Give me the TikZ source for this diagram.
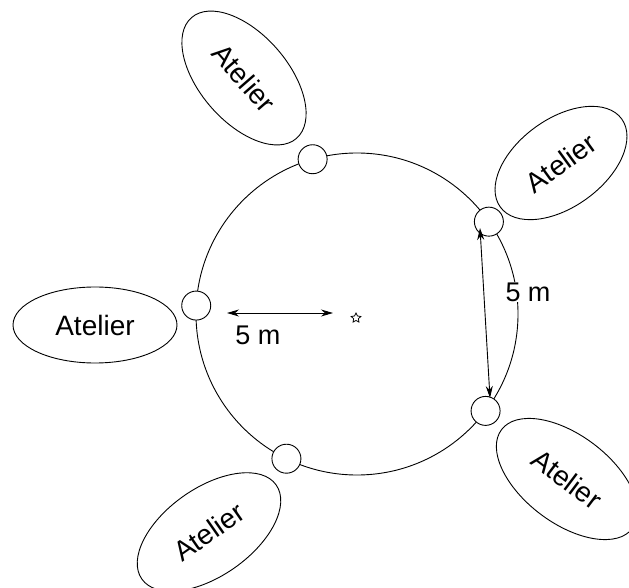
\documentclass[tikz,border=0pt]{standalone}
\usepackage{fontspec}
\setmainfont{Liberation Sans}
\usetikzlibrary{shapes,positioning,arrows.meta,calc}

\begin{document}
\begin{tikzpicture}[x=1pt, y=1pt,
      atelier/.style={draw, ellipse, line width=0.9pt, inner sep=0pt,
        font=\fontsize{28}{30}\selectfont},
      stand/.style={draw, circle, fill=white, line width=0.9pt,
        minimum size=29pt, inner sep=0pt},
      measure/.style={{Stealth[length=12pt,width=7pt]}-{Stealth[length=12pt,width=7pt]}, line width=0.9pt},
      dist/.style={fill=white, inner sep=1pt, font=\fontsize{27}{29}\selectfont}]
      \useasboundingbox (0,0) rectangle (629,587);

      \coordinate (centre) at (357,273);
      \draw[line width=0.9pt] (centre) circle[radius=161pt];

      \foreach \name/\ang in {top/106, rt/35, left/177, br/323, bl/244} {
        \node[stand] (\name) at ($(centre)+(\ang:161pt)$) {};
      };

      \node[atelier, minimum width=160pt, minimum height=88pt, rotate=-49] (at-tl) at (244,509) {Atelier};
      \node[atelier, minimum width=150pt, minimum height=88pt, rotate=36] (at-rt) at (561,424) {Atelier};
      \node[atelier, minimum width=164pt, minimum height=76pt] (at-l) at (95,262) {Atelier};
      \node[atelier, minimum width=164pt, minimum height=88pt, rotate=-37] (at-br) at (567,108) {Atelier};
      \node[atelier, minimum width=164pt, minimum height=88pt, rotate=35] (at-bl) at (209,55) {Atelier};

      \node[star, star points=5, star point ratio=2, draw, line width=0.8pt,
        minimum size=10pt, inner sep=0pt] (star) at (356,269) {};

      % distances
      \coordinate (h-a) at (227,274);
      \coordinate (h-b) at (333,274);
      \draw[measure] (h-a) -- (h-b);
      \node[dist] (d-h) at (258,252) {5 m};

      \coordinate (v-a) at (480,359);
      \coordinate (v-b) at (490,189);
      \draw[measure] (v-a) -- (v-b);
      \node[dist] (d-v) at (528,295) {5 m};
    \end{tikzpicture}
\end{document}
